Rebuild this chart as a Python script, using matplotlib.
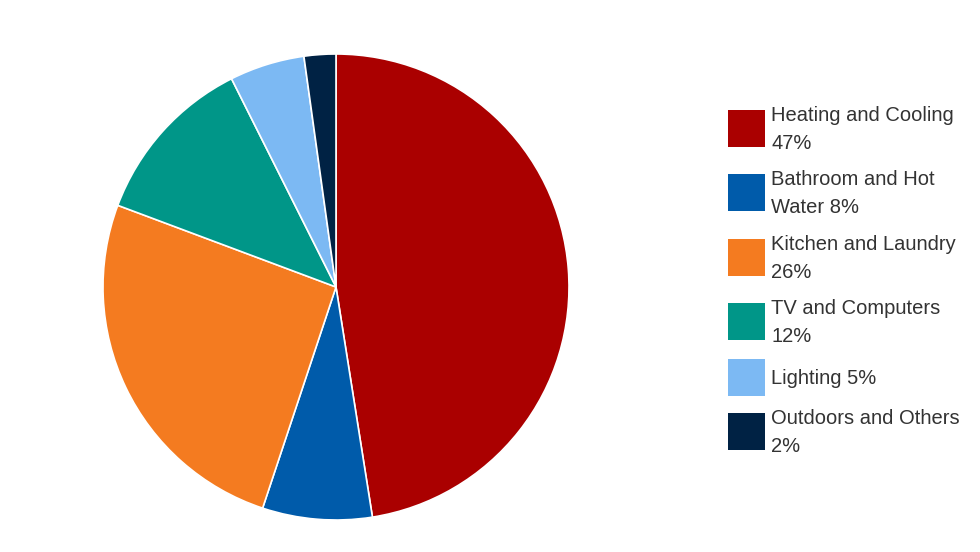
import matplotlib
matplotlib.use("Agg")
import matplotlib.pyplot as plt
from matplotlib.patches import Rectangle

# %% DATA
categories = ["Heating and Cooling", "Bathroom and Hot Water", "Kitchen and Laundry",
              "TV and Computers", "Lighting", "Outdoors and Others"]
# slice sizes (legend shows rounded values)
shares = [47.5, 7.6, 25.6, 11.9, 5.2, 2.2]
legend_labels = ["Heating and Cooling\n47%", "Bathroom and Hot\nWater 8%",
                 "Kitchen and Laundry\n26%", "TV and Computers\n12%",
                 "Lighting 5%", "Outdoors and Others\n2%"]
colors = ["#AA0000", "#005BAA", "#F47B20", "#009688", "#7CB9F3", "#002244"]

# %% FIGURE
W, H = 980, 552
fig = plt.figure(figsize=(W / 100, H / 100), dpi=100)
plt.rcParams['font.family'] = ['Liberation Sans', 'DejaVu Sans']

# pie centre (336, 287) px, radius 233 px
cx, cy, r = 336, 287, 233
ax = fig.add_axes([(cx - r) / W, (H - cy - r) / H, 2 * r / W, 2 * r / H])
ax.pie(shares, colors=colors, startangle=90, counterclock=False, radius=1,
       wedgeprops=dict(edgecolor="white", linewidth=1.2))
ax.set_xlim(-1, 1)
ax.set_ylim(-1, 1)
ax.set_aspect("equal")
ax.axis("off")

# %% LEGEND (drawn by hand to match layout)
box_left, box_size, text_left = 728, 37, 771
box_tops = [110, 174, 239, 303, 359, 413]
for label, color, top in zip(legend_labels, colors, box_tops):
    fig.patches.append(Rectangle((box_left / W, (H - top - box_size) / H),
                                 box_size / W, box_size / H,
                                 transform=fig.transFigure, facecolor=color,
                                 edgecolor="none"))
    fig.text(text_left / W, (H - top - 19.5) / H, label, ha="left", va="center",
             fontsize=14.5, color="#333333", linespacing=1.65)

fig.savefig("out.png", dpi=100, facecolor="white")
